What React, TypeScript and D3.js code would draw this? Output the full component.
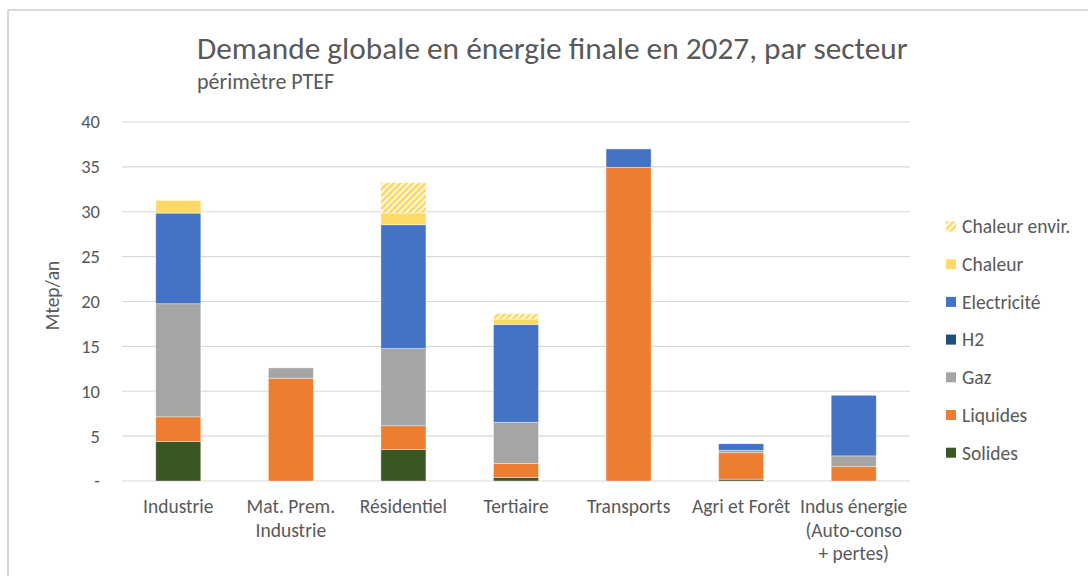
import React from "react";
import * as d3 from "d3";

const categories = [
  ["Industrie"],
  ["Mat. Prem.", "Industrie"],
  ["Résidentiel"],
  ["Tertiaire"],
  ["Transports"],
  ["Agri et Forêt"],
  ["Indus énergie", "(Auto-conso", "+ pertes)"],
];

const seriesNames = ["Solides", "Liquides", "Gaz", "H2", "Electricité", "Chaleur", "Chaleur envir."];
const solides = [4.4, 0, 3.5, 0.4, 0, 0.2, 0];
const liquides = [2.75, 11.45, 2.65, 1.55, 34.95, 2.95, 1.6];
const gaz = [12.6, 1.15, 8.6, 4.6, 0, 0.27, 1.2];
const h2 = [0, 0, 0, 0, 0, 0, 0];
const electricite = [10.1, 0, 13.8, 10.9, 2.05, 0.74, 6.75];
const chaleur = [1.4, 0, 1.3, 0.6, 0, 0.06, 0];
const chaleurEnvir = [0, 0, 3.4, 0.6, 0, 0, 0];
const yTicks = [0, 5, 10, 15, 20, 25, 30, 35, 40];

const colors: Record<string, string> = {
  Solides: "#3A5724",
  Liquides: "#ED7D31",
  Gaz: "#A5A5A5",
  H2: "#1F4E79",
  "Electricité": "#4472C4",
  Chaleur: "#FFD966",
  "Chaleur envir.": "url(#hatch)",
};

const FONT = "Carlito, Calibri, Lato, 'Open Sans', sans-serif";

export default function App() {
  const seriesValues = [solides, liquides, gaz, h2, electricite, chaleur, chaleurEnvir];
  const rows = categories.map((c, i) => {
    const r: any = { key: c.join(" ") };
    seriesNames.forEach((s, j) => (r[s] = seriesValues[j][i]));
    return r;
  });
  const stacked = d3.stack().keys(seriesNames)(rows);

  const left = 122, right = 910, top = 122, bottom = 481;
  const x = d3.scaleBand().domain(rows.map((r) => r.key)).range([left, right]).paddingInner(0.6).paddingOuter(0.3);
  const y = d3.scaleLinear().domain([0, 40]).range([bottom, top]);

  const legendOrder = [...seriesNames].reverse();

  return (
    <svg width={1088} height={576} style={{ position: "absolute", left: 0, top: 0, fontFamily: FONT }}>
      <defs>
        <pattern id="hatch" patternUnits="userSpaceOnUse" width="4.5" height="4.5" patternTransform="rotate(45)">
          <rect width="4.5" height="4.5" fill="#FFD966" />
          <rect width="1.6" height="4.5" fill="#ffffff" />
        </pattern>
      </defs>
      <rect x={0} y={0} width={1088} height={576} fill="#fff" />
      <line x1={8} y1={10} x2={1088} y2={10} stroke="#D9D9D9" strokeWidth={2} />
      <line x1={8} y1={10} x2={8} y2={576} stroke="#D9D9D9" strokeWidth={2} />

      <text x={197} y={59} fontSize={31.3} fill="#595959">Demande globale en énergie finale en 2027, par secteur</text>
      <text x={197} y={89} fontSize={22} fill="#595959">périmètre PTEF</text>

      {yTicks.map((t) => (
        <g key={t}>
          <line x1={left} x2={right} y1={y(t)} y2={y(t)} stroke="#D9D9D9" strokeWidth={1.2} />
          <text x={100} y={y(t)} dy="0.35em" textAnchor="end" fontSize={18.5} fill="#595959">
            {t === 0 ? "-" : t}
          </text>
        </g>
      ))}

      <text transform={`translate(59,${(top + bottom) / 2 - 6}) rotate(-90)`} textAnchor="middle" fontSize={19.5} fill="#595959">
        Mtep/an
      </text>

      {stacked.map((s) => (
        <g key={s.key}>
          {s.map((d, i) =>
            d[1] - d[0] > 0 ? (
              <rect
                key={i}
                x={x(rows[i].key)}
                width={x.bandwidth()}
                y={y(d[1])}
                height={y(d[0]) - y(d[1])}
                fill={colors[s.key]}
                stroke="#ffffff"
                strokeOpacity={0.5}
                strokeWidth={0.75}
              />
            ) : null
          )}
        </g>
      ))}

      {categories.map((c, i) => (
        <text key={i} x={(x(rows[i].key) as number) + x.bandwidth() / 2} y={513} textAnchor="middle" fontSize={19.5} fill="#595959">
          {c.map((line, k) => (
            <tspan key={k} x={(x(rows[i].key) as number) + x.bandwidth() / 2} dy={k === 0 ? 0 : 23.5}>
              {line}
            </tspan>
          ))}
        </text>
      ))}

      {legendOrder.map((s, i) => {
        const ly = 226.5 + i * 37.7;
        return (
          <g key={s}>
            <rect x={946} y={ly - 5} width={10} height={10} fill={colors[s]} />
            <text x={962} y={ly} dy="0.35em" fontSize={19.5} fill="#595959">{s}</text>
          </g>
        );
      })}
    </svg>
  );
}
